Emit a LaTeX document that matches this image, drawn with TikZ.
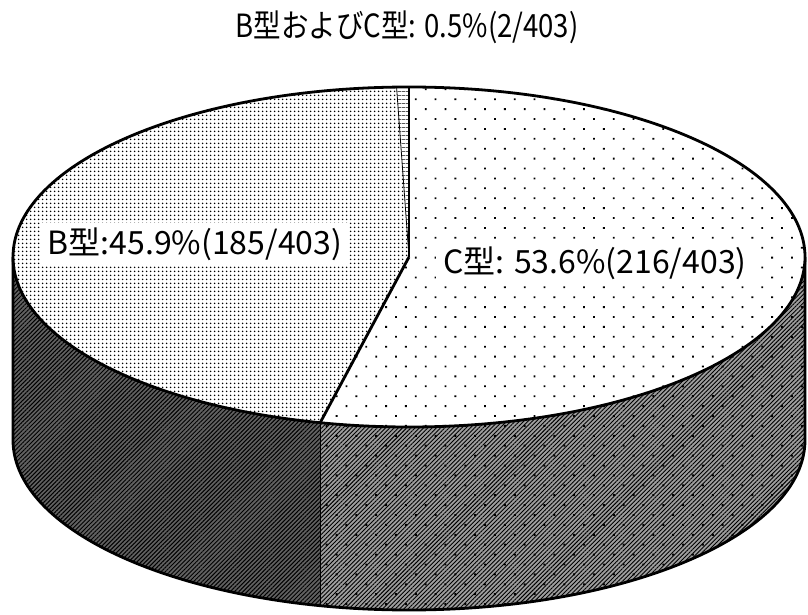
\documentclass[tikz,border=0pt]{standalone}
\usepackage{fontspec}
\setmainfont{Noto Sans CJK JP}
\newfontfamily\titlefont[FakeStretch=0.86]{Noto Sans CJK JP}
\usetikzlibrary{patterns.meta}

\tikzset{
  pie arc/.style={x radius=396, y radius=170},
  edge line/.style={line width=2.8pt, line join=round},
  pie label/.style={fill=white, inner xsep=7pt, inner ysep=5pt, font=\fontsize{32}{35}\selectfont},
  title text/.style={font=\titlefont\fontsize{32}{35}\selectfont},
  top B/.style={fill=white, postaction={pattern={Dots[distance=4pt, radius=1pt]}}},
  top C/.style={fill=white, postaction={pattern={Dots[distance=14pt, angle=45, radius=1.3pt]}}},
  top BC/.style={fill=white, postaction={pattern={Lines[angle=0, distance=4pt, line width=0.8pt]}}},
  side B/.style={fill=black!62, postaction={pattern={Lines[angle=45, distance=3pt, line width=1pt]}}},
  side C/.style={fill=black!38, postaction={pattern={Lines[angle=45, distance=3pt, line width=0.9pt]}},
    postaction={pattern={Dots[distance=14pt, angle=45, radius=1.4pt]}}},
}

\begin{document}
\begin{tikzpicture}[x=1pt, y=1pt]
  \useasboundingbox (0,0) rectangle (808,614);
  \coordinate (o) at (409,357);

  % Lados
  \path[side B] (o) ++(180:396 and 170) arc[pie arc, start angle=180, end angle=257.04]
    -- ++(0,-183) arc[pie arc, start angle=257.04, end angle=180] -- cycle;
  \path[side C] (o) ++(257.04:396 and 170) arc[pie arc, start angle=257.04, end angle=360]
    -- ++(0,-183) arc[pie arc, start angle=360, end angle=257.04] -- cycle;
  \draw[line width=0.8pt] (o) ++(257.04:396 and 170) -- ++(0,-183);
  \draw[edge line] (o) ++(180:396 and 170) -- ++(0,-183)
    arc[pie arc, start angle=180, end angle=360] -- ++(0,183);

  % Tampa
  \path[top C] (o) -- ++(90:396 and 170) arc[pie arc, start angle=90, end angle=-102.96] -- cycle;
  \path[top B] (o) -- ++(-102.96:396 and 170) arc[pie arc, start angle=-102.96, end angle=-268.2] -- cycle;
  \path[top BC] (o) -- ++(91.8:396 and 170) arc[pie arc, start angle=91.8, end angle=90] -- cycle;
  \draw[edge line] (o) ellipse[pie arc];
  \draw[edge line] (o) -- ++(90:396 and 170);
  \draw[edge line] (o) -- ++(-102.96:396 and 170);
  \draw[line width=0.8pt] (o) -- ++(91.8:396 and 170);

  % Rotulos
  \node[title text] (title) at (407,587) {B型およびC型: 0.5\%(2/403)};
  \node[pie label] (labelB) at (195,370) {B型:45.9\%(185/403)};
  \node[pie label] (labelC) at (595,351) {C型: 53.6\%(216/403)};
\end{tikzpicture}
\end{document}
